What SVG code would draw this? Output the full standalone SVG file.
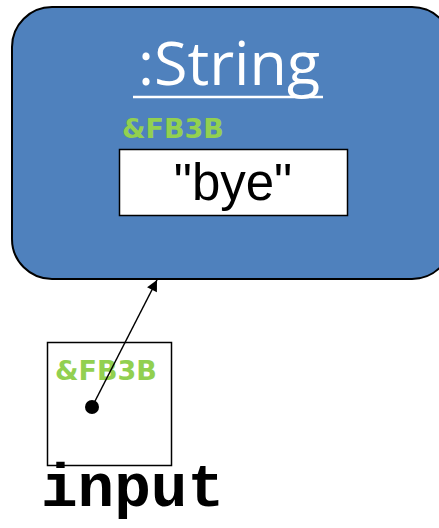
<svg xmlns="http://www.w3.org/2000/svg" width="439" height="528" viewBox="0 0 439 528">
<style>
.addr{font-family:"DejaVu Sans",sans-serif;font-weight:bold;fill:#92D050;font-size:27px}
</style>
<defs>
<marker id="ah" viewBox="0 0 10 10" refX="10" refY="5" markerWidth="13" markerHeight="11" markerUnits="userSpaceOnUse" orient="auto">
<path d="M0,0 L10,5 L0,10 z" fill="#000"/>
</marker>
</defs>
<rect width="439" height="528" fill="#fff"/>
<g id="string-obj">
<rect x="12" y="7" width="440" height="272" rx="40" ry="40" fill="#4F81BD" stroke="#000" stroke-width="2"/>
<text x="229" y="85" text-anchor="middle" font-family="Open Sans, Noto Sans, sans-serif" font-size="61" fill="#fff">:String</text>
<line x1="133" y1="97" x2="323" y2="97" stroke="#fff" stroke-width="2.5"/>
<text class="addr" x="122" y="138" font-size="28">&amp;FB3B</text>
<rect x="119.5" y="149.5" width="228" height="66" fill="#fff" stroke="#000" stroke-width="1.5"/>
<text x="233" y="200" text-anchor="middle" font-family="Liberation Sans, Arial, sans-serif" font-size="51" fill="#000">"bye"</text>
</g>
<g id="input-var">
<rect x="47.5" y="342.5" width="124" height="123" fill="#fff" stroke="#000" stroke-width="1.5"/>
<text class="addr" x="55" y="380" font-size="28">&amp;FB3B</text>
<text x="41" y="506" font-family="Liberation Mono, Courier New, monospace" font-weight="bold" font-size="61" fill="#000">input</text>
</g>
<g id="connectors">
<circle cx="92" cy="407" r="7" fill="#000"/>
<line x1="92" y1="407" x2="157" y2="280" stroke="#000" stroke-width="1.5" marker-end="url(#ah)"/>
</g>
</svg>
